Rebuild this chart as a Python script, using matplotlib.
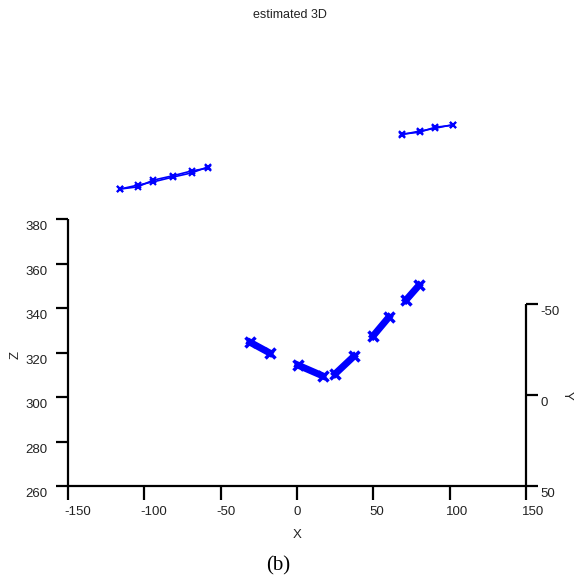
import numpy as np
import matplotlib
matplotlib.use("Agg")
import matplotlib.pyplot as plt
from mpl_toolkits.mplot3d import proj3d

# axis ranges and ticks
x_ticks = [-150, -100, -50, 0, 50, 100, 150]
y_ticks = [-50, 0, 50]
z_ticks = [260, 280, 300, 320, 340, 360, 380]

# lower group: short thick segments (depth Y = 40)
seg_x = [[-30.8, -17.7], [0.6, 17.0], [24.9, 37.3], [49.7, 60.2], [71.3, 79.9]]
seg_z = [[316.5, 311.6], [306.2, 301.3], [302.2, 310.2], [319.2, 327.8], [335.4, 342.1]]
seg_y = 40

# upper left track, two nearly overlapping runs (depth Y = -40)
top_left_x = [-115.9, -104.2, -94.3, -81.2, -68.8, -58.3]
top_left_z1 = [319.9, 321.7, 323.1, 325.3, 327.2, 329.9]
top_left_z2 = [319.9, 320.9, 323.9, 325.9, 328.1, 329.3]

# upper right track (depth Y = -40)
top_right_x = [68.7, 80.5, 90.3, 102.1]
top_right_z1 = [344.6, 345.5, 347.7, 348.6]
top_right_z2 = [344.4, 346.0, 347.2, 348.9]
top_y = -40

W, H = 574, 581
plt.rcParams['font.family'] = ['Liberation Sans', 'DejaVu Sans']

fig = plt.figure(figsize=(W / 100, H / 100), dpi=100)
ax = fig.add_axes([0, 0, 1, 1], projection='3d', proj_type='ortho')
ax.view_init(elev=-30, azim=-90)
ax.set_xlim(x_ticks[0], x_ticks[-1])
ax.set_ylim(y_ticks[0], y_ticks[-1])
ax.set_zlim(z_ticks[0], z_ticks[-1])
ax.set_box_aspect((458, 364, 308))
ax.set_axis_off()

blue = '#0000ff'
for xs, zs in zip(seg_x, seg_z):
    ax.plot(xs, [seg_y] * 2, zs, color=blue, lw=5, marker='x', ms=7, mew=2.5)

for zs in (top_left_z1, top_left_z2):
    ax.plot(top_left_x, [top_y] * len(top_left_x), zs, color=blue, lw=1.2,
            marker='x', ms=5, mew=1.5)
for zs in (top_right_z1, top_right_z2):
    ax.plot(top_right_x, [top_y] * len(top_right_x), zs, color=blue, lw=1.2,
            marker='x', ms=5, mew=1.5)


def label(x, y, z, s, **kw):
    # project the 3d anchor, then place a plain 2d text there
    xs, ys, _ = proj3d.proj_transform(x, y, z, ax.get_proj())
    ax.text2D(xs, ys, s, transform=ax.transData, **kw)


# hand drawn box axes (matlab style)
x0, x1 = x_ticks[0], x_ticks[-1]
y0, y1 = y_ticks[0], y_ticks[-1]
z0, z1 = z_ticks[0], z_ticks[-1]
k = dict(color='black', lw=1.6, solid_capstyle='butt')
tick_font = dict(fontsize=9.5, color='#222222')

ax.plot([x0, x0], [y1, y1], [z0, z1], **k)
for z in z_ticks:
    ax.plot([x0 - 8, x0], [y1, y1], [z, z], **k)
    label(x0 - 13.5, y1, z - 3.6, str(z), ha='right', va='center', **tick_font)

ax.plot([x0, x1], [y1, y1], [z0, z0], **k)
for x in x_ticks:
    ax.plot([x, x], [y1, y1 + 7.7], [z0, z0], **k)
    label(x - 2.5, y1 + 14.3, z0, str(x), ha='left', va='center', **tick_font)

ax.plot([x1, x1], [y0, y1], [z0, z0], **k)
for y in y_ticks:
    ax.plot([x1, x1 + 8], [y, y], [z0, z0], **k)
    label(x1 + 9.5, y, z0 - 3.6, str(y), ha='left', va='center', **tick_font)

label(0, y1 + 27, z0, 'X', ha='center', va='center', **tick_font)
label(x0 - 34.5, y1, 318.9, 'Z', ha='center', va='center', rotation=90, **tick_font)
label(x1 + 26.8, 0, z0, 'Y', ha='center', va='center', rotation=-90, **tick_font)

fig.text(290 / W, 1 - 15 / H, 'estimated 3D', ha='center', va='center',
         fontsize=9, color='#222222')
fig.text(278 / W, 1 - 566 / H, '(b)', ha='center', va='center', fontsize=15,
         family='Liberation Serif')

# place the 3d box so its corners land where the reference has them
fig.canvas.draw()


def to_px(x, y, z):
    xs, ys, _ = proj3d.proj_transform(x, y, z, ax.get_proj())
    return ax.transData.transform((xs, ys))


bb = ax.bbox
p0 = to_px(x0, y1, z0)
p1 = to_px(x1, y1, z0)
scale = 458 / (p1[0] - p0[0])
size = bb.width * scale
left = 68 - scale * (p0[0] - bb.x0)
bottom = (H - 486) - scale * (p0[1] - bb.y0)
ax.set_position([left / W, bottom / H, size / W, size / H])

fig.savefig('out.png', dpi=100)
